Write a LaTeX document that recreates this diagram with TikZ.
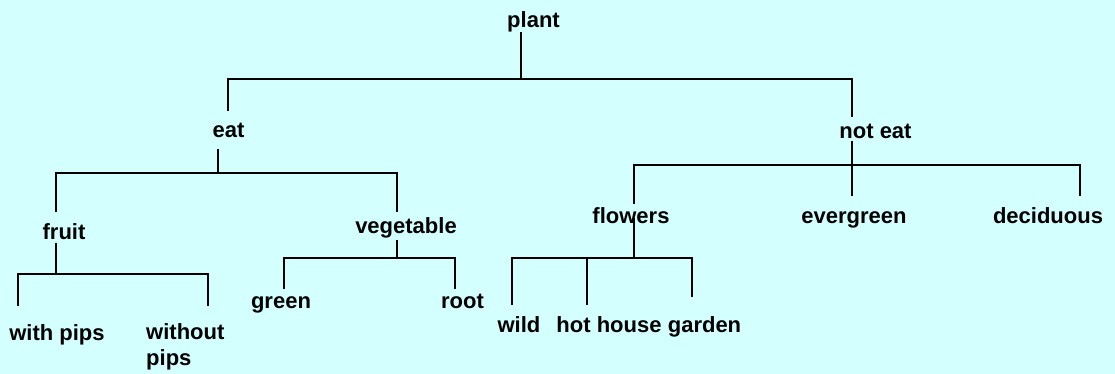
\documentclass[tikz,border=0pt]{standalone}
\usepackage{fontspec}
\setmainfont{Liberation Sans}
\definecolor{bg}{HTML}{D4FFFF}
\begin{document}
\begin{tikzpicture}[x=1pt,y=-1pt,
  lbl/.style={font=\fontsize{22}{26}\selectfont\bfseries, inner sep=0pt, anchor=base},
  branch/.style={line width=2pt, draw=black}]
\useasboundingbox (0,0) rectangle (1115,374);
\fill[bg] (0,0) rectangle (1115,374);
% labels
\node[lbl] (plant) at (533.5,28) {plant};
\node[lbl] (eat) at (228.5,138) {eat};
\node[lbl] (noteat) at (875.5,139) {not eat};
\node[lbl] (fruit) at (64,239) {fruit};
\node[lbl] (veg) at (406,233) {vegetable};
\node[lbl] (flowers) at (631,223) {flowers};
\node[lbl] (evergreen) at (854,223) {evergreen};
\node[lbl] (deciduous) at (1048,223) {deciduous};
\node[lbl] (withpips) at (57,340) {with pips};
\node[lbl, anchor=base west, align=left] (withoutpips) at (146,365) {without\\pips};
\node[lbl] (green) at (281,308) {green};
\node[lbl] (root) at (462.5,308) {root};
\node[lbl] (wild) at (519,332) {wild};
\node[lbl] (hothouse) at (609,332) {hot house};
\node[lbl] (garden) at (704.5,332) {garden};
% junction coordinates
\coordinate (plantB) at (521,32);
\coordinate (plantJ) at (521,79);
\coordinate (eatT) at (228,111);
\coordinate (noteatT) at (852,117);
\coordinate (eatB) at (218,149);
\coordinate (eatJ) at (218,173);
\coordinate (fruitT) at (56,212);
\coordinate (vegT) at (397,212);
\coordinate (noteatB) at (852,141);
\coordinate (noteatJ) at (852,165);
\coordinate (evergreenT) at (852,196);
\coordinate (flowersT) at (634,204);
\coordinate (deciduousT) at (1080,196);
\coordinate (fruitB) at (56,243);
\coordinate (fruitJ) at (56,274);
\coordinate (withpipsT) at (18,306);
\coordinate (withoutpipsT) at (208,306);
\coordinate (vegB) at (397,240);
\coordinate (vegJ) at (397,258);
\coordinate (greenT) at (284,289);
\coordinate (rootT) at (455,289);
\coordinate (flowersB) at (634,218);
\coordinate (flowersJ) at (634,258);
\coordinate (wildT) at (512,305);
\coordinate (hothouseT) at (587,305);
\coordinate (gardenT) at (692,297);
% connectors
\draw[branch] (plantB) -- (plantJ);
\draw[branch] (eatT) |- (plantJ) -| (noteatT);
\draw[branch] (eatB) -- (eatJ);
\draw[branch] (fruitT) |- (eatJ) -| (vegT);
\draw[branch] (noteatB) -- (evergreenT);
\draw[branch] (flowersT) |- (noteatJ) -| (deciduousT);
\draw[branch] (fruitB) -- (fruitJ);
\draw[branch] (withpipsT) |- (fruitJ) -| (withoutpipsT);
\draw[branch] (vegB) -- (vegJ);
\draw[branch] (greenT) |- (vegJ) -| (rootT);
\draw[branch] (flowersB) -- (flowersJ);
\draw[branch] (wildT) |- (flowersJ) -| (gardenT);
\draw[branch] (hothouseT) -- (hothouseT |- flowersJ);
\end{tikzpicture}
\end{document}
